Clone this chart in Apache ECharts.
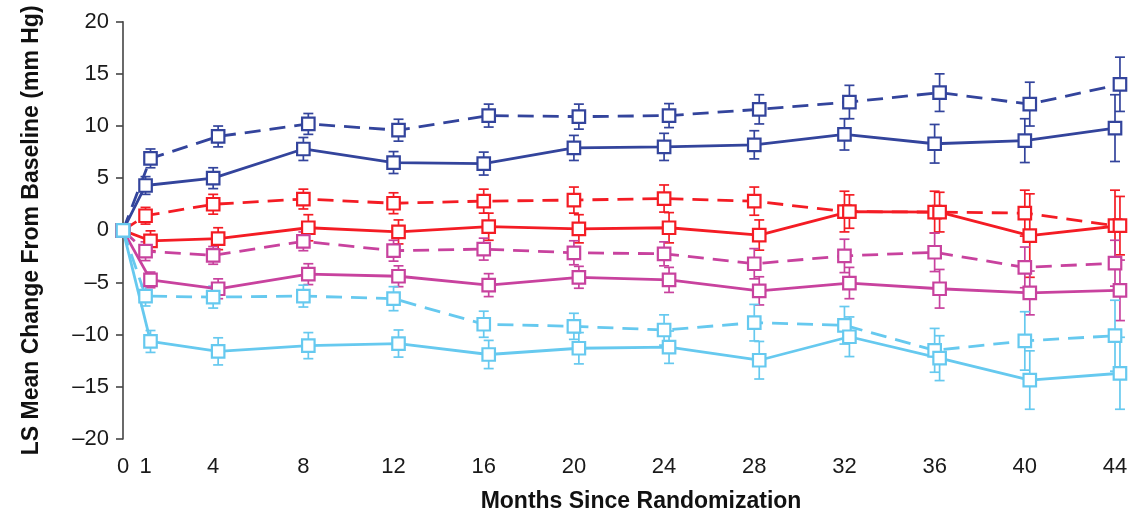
<!DOCTYPE html>
<html>
<head>
<meta charset="utf-8">
<script src="https://cdn.jsdelivr.net/npm/echarts@6/dist/echarts.min.js"></script>
<style>
  html, body { margin: 0; padding: 0; background: #fff; }
  #chart { width: 1146px; height: 518px; }
</style>
</head>
<body>
<div id="chart"></div>
<script>
// Visit months (x positions) and tick labels
const months = [0, 1, 4, 8, 12, 16, 20, 24, 28, 32, 36, 40, 44];
const monthTicks = [0, 1, 4, 8, 12, 16, 20, 24, 28, 32, 36, 40, 44];
const yTicks = [-20, -15, -10, -5, 0, 5, 10, 15, 20];

// LS mean change from baseline (mm Hg) and error half-widths per group
const blueDashed    = [0, 6.9, 9.0, 10.2, 9.6, 11.0, 10.9, 11.0, 11.6, 12.3, 13.2, 12.1, 14.0];
const blueDashedErr = [0, 0.9, 1.0, 1.0, 1.05, 1.1, 1.2, 1.15, 1.4, 1.6, 1.8, 2.1, 2.6];
const blueSolid     = [0, 4.3, 5.0, 7.8, 6.5, 6.4, 7.9, 8.0, 8.2, 9.2, 8.3, 8.6, 9.8];
const blueSolidErr  = [0, 0.85, 1.0, 1.1, 1.05, 1.1, 1.2, 1.3, 1.35, 1.5, 1.85, 2.1, 3.2];
const redDashed     = [0, 1.4, 2.5, 3.0, 2.6, 2.8, 2.9, 3.05, 2.8, 1.8, 1.75, 1.65, 0.45];
const redDashedErr  = [0, 0.8, 0.95, 0.95, 1.0, 1.15, 1.25, 1.3, 1.35, 1.95, 2.0, 2.2, 3.4];
const redSolid      = [0, -1.0, -0.8, 0.25, -0.15, 0.35, 0.15, 0.25, -0.45, 1.8, 1.75, -0.5, 0.45];
const redSolidErr   = [0, 0.95, 1.05, 1.25, 1.15, 1.3, 1.35, 1.45, 1.45, 1.6, 1.9, 4.0, 2.8];
const magDashed     = [0, -2.0, -2.4, -1.05, -1.95, -1.8, -2.15, -2.25, -3.2, -2.45, -2.1, -3.55, -3.15];
const magDashedErr  = [0, 0.9, 0.85, 0.9, 1.0, 1.05, 1.15, 1.15, 1.45, 1.6, 1.85, 1.95, 2.2];
const magSolid      = [0, -4.75, -5.6, -4.2, -4.4, -5.25, -4.5, -4.75, -5.8, -5.05, -5.6, -6.0, -5.75];
const magSolidErr   = [0, 0.75, 0.95, 1.0, 1.0, 1.1, 1.05, 1.2, 1.35, 1.5, 1.85, 2.1, 2.9];
const cyanDashed    = [0, -6.3, -6.4, -6.3, -6.55, -9.0, -9.2, -9.55, -8.85, -9.1, -11.5, -10.6, -10.1];
const cyanDashedErr = [0, 0.95, 1.05, 1.05, 1.15, 1.25, 1.25, 1.45, 1.75, 1.8, 2.1, 2.8, 3.4];
const cyanSolid     = [0, -10.65, -11.6, -11.05, -10.85, -11.9, -11.3, -11.2, -12.45, -10.2, -12.25, -14.35, -13.7];
const cyanSolidErr  = [0, 1.05, 1.3, 1.25, 1.3, 1.35, 1.5, 1.55, 1.8, 1.9, 2.15, 2.8, 3.45];

// Styling per group: colour, dash, small horizontal dodge (months) so overlapping bars stay visible
const groups = [
  { name: 'blueDashed', values: blueDashed, err: blueDashedErr, color: '#33449c', dashed: true,  dodge: 0.22 },
  { name: 'blueSolid',  values: blueSolid,  err: blueSolidErr,  color: '#33449c', dashed: false, dodge: 0 },
  { name: 'redDashed',  values: redDashed,  err: redDashedErr,  color: '#f41c24', dashed: true,  dodge: 0 },
  { name: 'redSolid',   values: redSolid,   err: redSolidErr,   color: '#f41c24', dashed: false, dodge: 0.22 },
  { name: 'magDashed',  values: magDashed,  err: magDashedErr,  color: '#c8429e', dashed: true,  dodge: 0 },
  { name: 'magSolid',   values: magSolid,   err: magSolidErr,   color: '#c8429e', dashed: false, dodge: 0.22 },
  { name: 'cyanDashed', values: cyanDashed, err: cyanDashedErr, color: '#66c9ef', dashed: true,  dodge: 0 },
  { name: 'cyanSolid',  values: cyanSolid,  err: cyanSolidErr,  color: '#66c9ef', dashed: false, dodge: 0.22 }
];

const FONT = '"Liberation Sans", Arial, Helvetica, sans-serif';
const fmtMinus = v => String(v).replace('-', '\u2013');

function errorBarRenderer(color) {
  return function (params, api) {
    const x = api.value(0);
    const lo = api.coord([x, api.value(2)]);
    const hi = api.coord([x, api.value(3)]);
    const cap = 5;
    const style = { stroke: color, lineWidth: 1.7, fill: null };
    return {
      type: 'group',
      children: [
        { type: 'line', shape: { x1: lo[0], y1: lo[1], x2: hi[0], y2: hi[1] }, style: style },
        { type: 'line', shape: { x1: lo[0] - cap, y1: lo[1], x2: lo[0] + cap, y2: lo[1] }, style: style },
        { type: 'line', shape: { x1: hi[0] - cap, y1: hi[1], x2: hi[0] + cap, y2: hi[1] }, style: style }
      ]
    };
  };
}

const series = [];
groups.forEach(g => {
  const xs = months.map(m => (m === 0 ? 0 : m + g.dodge));
  const bars = [];
  xs.forEach((x, i) => {
    if (g.err[i] > 0) bars.push([x, g.values[i], g.values[i] - g.err[i], g.values[i] + g.err[i]]);
  });
  series.push({
    name: g.name + 'Err',
    type: 'custom',
    z: 1,
    silent: true,
    clip: false,
    renderItem: errorBarRenderer(g.color),
    encode: { x: 0, y: [1, 2, 3] },
    data: bars
  });
});
groups.forEach(g => {
  const xs = months.map(m => (m === 0 ? 0 : m + g.dodge));
  series.push({
    name: g.name,
    type: 'line',
    z: 3,
    silent: true,
    clip: false,
    data: xs.map((x, i) => [x, g.values[i]]),
    symbol: 'rect',
    symbolSize: 12.5,
    showSymbol: true,
    lineStyle: { color: g.color, width: 2.8, type: g.dashed ? [16, 9] : 'solid' },
    itemStyle: { color: '#ffffff', borderColor: g.color, borderWidth: 2.2 },
    emphasis: { disabled: true }
  });
});

const chart = echarts.init(document.getElementById('chart'), null, { renderer: 'canvas' });
chart.setOption({
  animation: false,
  backgroundColor: '#ffffff',
  grid: { left: 123, right: 31, top: 21.7, bottom: 76.3, containLabel: false },
  xAxis: {
    type: 'value',
    min: 0,
    max: 44,
    name: 'Months Since Randomization',
    nameLocation: 'middle',
    nameGap: 51,
    nameTextStyle: { fontFamily: FONT, fontSize: 23, fontWeight: 'bold', color: '#111', padding: [0, 0, 0, 44] },
    axisLine: { show: false },
    axisTick: { show: false },
    splitLine: { show: false },
    axisLabel: {
      customValues: monthTicks,
      fontFamily: FONT,
      fontSize: 22,
      color: '#1a1a1a',
      margin: 17,
      showMinLabel: true,
      showMaxLabel: true
    }
  },
  yAxis: {
    type: 'value',
    min: yTicks[0],
    max: yTicks[yTicks.length - 1],
    interval: 5,
    name: 'LS Mean Change From Baseline (mm Hg)',
    nameLocation: 'middle',
    nameGap: 80,
    nameTextStyle: { fontFamily: FONT, fontSize: 23, fontWeight: 'bold', color: '#111' },
    axisLine: { show: true, lineStyle: { color: '#444', width: 1.6 } },
    axisTick: { show: true, length: 7, lineStyle: { color: '#444', width: 1.6 } },
    splitLine: { show: false },
    axisLabel: {
      fontFamily: FONT,
      fontSize: 22,
      color: '#1a1a1a',
      margin: 14,
      formatter: fmtMinus
    }
  },
  series: series
});
</script>
</body>
</html>
